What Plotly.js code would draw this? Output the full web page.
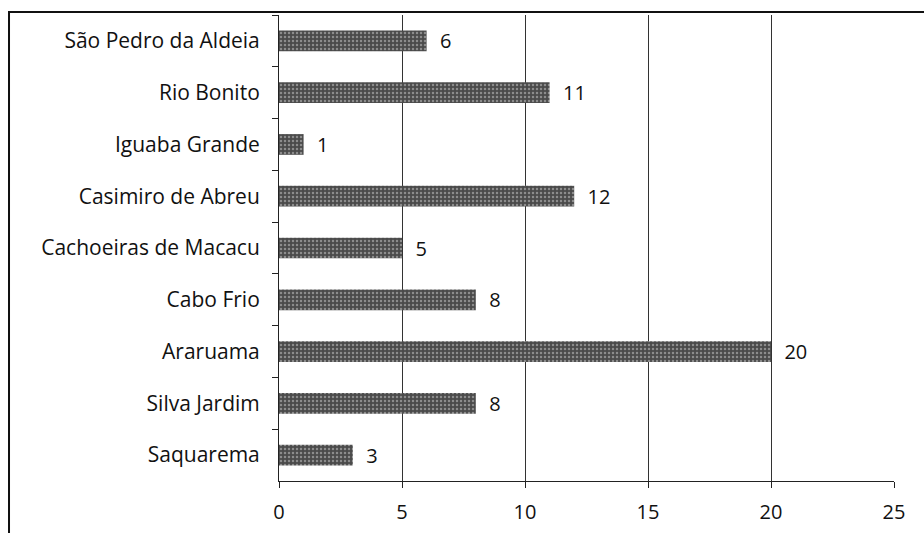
<!DOCTYPE html>
<html>
<head>
<meta charset="utf-8">
<script src="https://cdn.plot.ly/plotly-3.0.1.min.js"></script>
<style>html,body{margin:0;padding:0;background:#fff;}#chart{width:924px;height:533px;}</style>
</head>
<body>
<div id="chart"></div>
<script>
const municipios = ["São Pedro da Aldeia", "Rio Bonito", "Iguaba Grande", "Casimiro de Abreu", "Cachoeiras de Macacu", "Cabo Frio", "Araruama", "Silva Jardim", "Saquarema"];
const valores = [6, 11, 1, 12, 5, 8, 20, 8, 3];
const xTicks = [0, 5, 10, 15, 20, 25];

const fontFam = "'Open Sans', Lato, 'DejaVu Sans', sans-serif";

const trace = {
  type: "bar",
  orientation: "h",
  y: municipios,
  x: valores,
  width: 0.4,
  marker: {
    color: "#555555",
    line: {width: 0},
    pattern: {shape: ".", fgcolor: "#8c8c8c", bgcolor: "#4a4a4a", size: 4, solidity: 0.3}
  },
  text: valores.map(v => "  " + v),
  textposition: "outside",
  constraintext: "none",
  cliponaxis: false,
  textfont: {family: fontFam, size: 20, color: "#111"},
  hoverinfo: "skip"
};

const layout = {
  width: 924, height: 533,
  margin: {l: 279, r: 30, t: 15, b: 52},
  paper_bgcolor: "#fff", plot_bgcolor: "#fff",
  showlegend: false,
  font: {family: fontFam, size: 20, color: "#111"},
  xaxis: {
    range: [0, 25],
    tickvals: xTicks,
    ticktext: xTicks.map(String),
    tickfont: {family: fontFam, size: 20, color: "#111"},
    showgrid: true, gridcolor: "#333", gridwidth: 1,
    showline: true, linecolor: "#222", linewidth: 1,
    ticks: "outside", ticklen: 6, tickcolor: "#222",
    ticklabelstandoff: 7,
    zeroline: false,
    fixedrange: true
  },
  yaxis: {
    type: "category",
    autorange: "reversed",
    tickfont: {family: fontFam, size: 21, color: "#111"},
    showgrid: false,
    showline: true, linecolor: "#222", linewidth: 1,
    ticks: "outside", ticklen: 6, tickcolor: "#222",
    tickson: "boundaries",
    ticklabelstandoff: 14,
    fixedrange: true
  },
  shapes: [{
    type: "rect", xref: "paper", yref: "paper",
    x0: -0.439, x1: 1.2, y0: -0.3, y1: 1.0064,
    line: {color: "#111", width: 2}, fillcolor: "rgba(0,0,0,0)", layer: "above"
  }]
};

Plotly.newPlot("chart", [trace], layout, {displayModeBar: false, staticPlot: true});
</script>
</body>
</html>
